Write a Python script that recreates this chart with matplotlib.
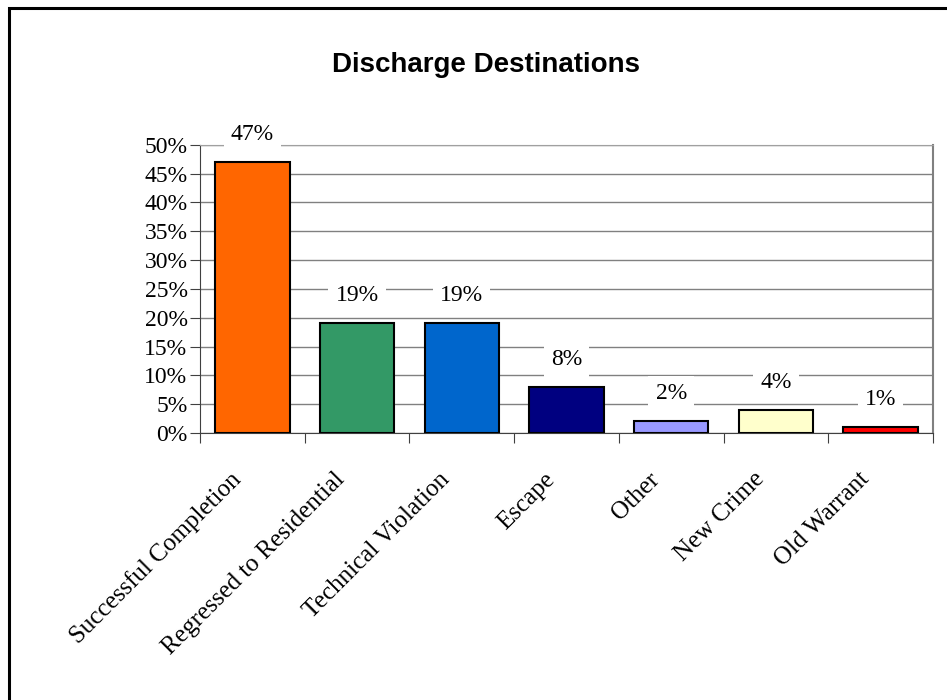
import matplotlib.pyplot as plt
from matplotlib.patches import Rectangle
from matplotlib.transforms import ScaledTranslation

categories = ["Successful Completion", "Regressed to Residential", "Technical Violation",
              "Escape", "Other", "New Crime", "Old Warrant"]
shares = [47, 19, 19, 8, 2, 4, 1]
colors = ["#FF6600", "#339966", "#0066CC", "#000080", "#9999FF", "#FFFFCC", "#FF0000"]
yticks = [0, 5, 10, 15, 20, 25, 30, 35, 40, 45, 50]

fig = plt.figure(figsize=(9.47, 7), dpi=100)
ax = fig.add_axes([0.2112, 0.3814, 0.774, 0.4119])

x = list(range(len(categories)))
ax.bar(x, shares, width=0.71, color=colors, edgecolor="black", linewidth=1.5, zorder=3)

ax.set_xlim(-0.5, len(categories) - 0.5)
ax.set_ylim(0, 50)
ax.set_yticks(yticks)
ax.set_yticklabels([f"{v}%" for v in yticks], fontsize=17, family="Liberation Serif")
ax.yaxis.grid(True, color="#808080", linewidth=1, zorder=0)

# ticks sit on category boundaries, labels on bar centers
ax.set_xticks([i - 0.5 for i in range(len(categories) + 1)])
ax.set_xticklabels([])
ax.set_xticks(x, minor=True)
ax.set_xticklabels(categories, minor=True, rotation=45, ha="right", rotation_mode="anchor",
                   fontsize=18, family="Liberation Serif")
ax.tick_params(axis="x", which="minor", length=0, pad=8)
ax.tick_params(axis="x", which="major", direction="out", length=7, color="#404040")
ax.tick_params(axis="y", direction="out", length=7, color="#404040", pad=2)

shift = ScaledTranslation(-0.23, -0.24, fig.dpi_scale_trans)
for lbl in ax.get_xticklabels(minor=True):
    lbl.set_transform(lbl.get_transform() + shift)

for side in ("left", "bottom"):
    ax.spines[side].set_color("#404040")
ax.spines["right"].set_color("#808080")
ax.spines["right"].set_linewidth(1.5)
ax.spines["top"].set_color("#a0a0a0")

for i, v in enumerate(shares):
    ax.annotate(f"{v}%", (i, v), xytext=(0, 20), textcoords="offset points",
                ha="center", va="center", fontsize=17, family="Liberation Serif",
                bbox=dict(boxstyle="square,pad=0.3", fc="white", ec="none"), zorder=4)

fig.text(0.513, 0.897, "Discharge Destinations", ha="center", va="baseline",
         fontsize=20, fontweight="bold", family="Liberation Sans")

fig.patches.append(Rectangle((0.0100, -0.1), 1.2, 1.0890, transform=fig.transFigure,
                             fill=False, edgecolor="black", linewidth=2.2))

fig.savefig("out.png", dpi=100)
